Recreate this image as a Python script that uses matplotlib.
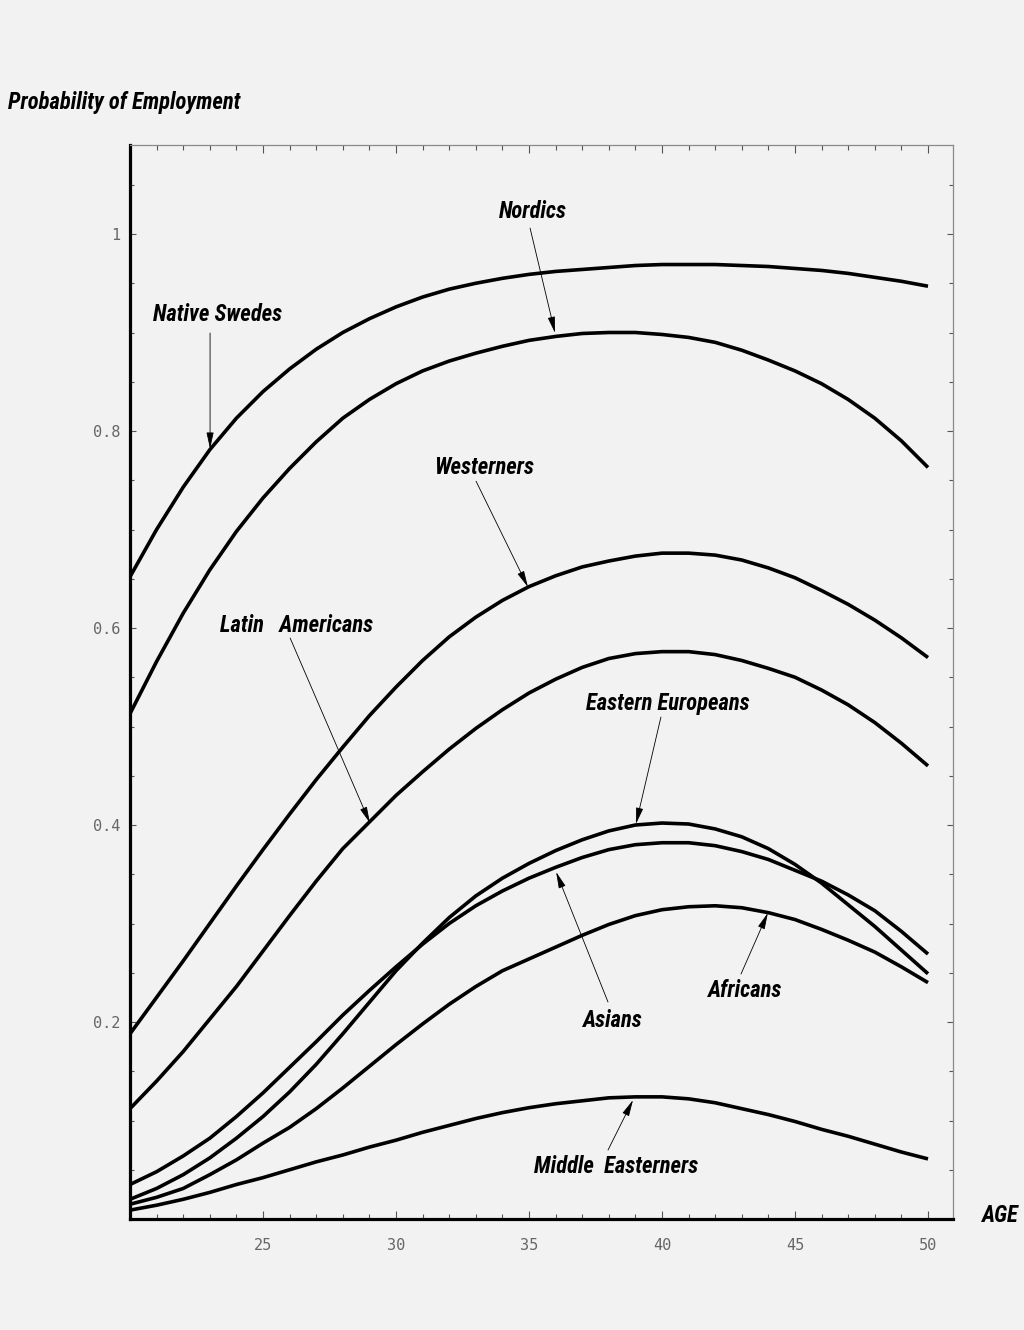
import matplotlib
matplotlib.use("Agg")
import matplotlib.pyplot as plt
from matplotlib import font_manager
from matplotlib.ticker import MultipleLocator, FixedLocator, NullFormatter

# ---- data -------------------------------------------------------------
ages = list(range(20, 51))

native_swedes = [0.652, 0.700, 0.743, 0.781, 0.813, 0.840, 0.863, 0.883,
                 0.900, 0.914, 0.926, 0.936, 0.944, 0.950, 0.955, 0.959,
                 0.962, 0.964, 0.966, 0.968, 0.969, 0.969, 0.969, 0.968,
                 0.967, 0.965, 0.963, 0.960, 0.956, 0.952, 0.947]
nordics = [0.513, 0.566, 0.615, 0.659, 0.698, 0.732, 0.762, 0.789,
           0.813, 0.832, 0.848, 0.861, 0.871, 0.879, 0.886, 0.892,
           0.896, 0.899, 0.900, 0.900, 0.898, 0.895, 0.890, 0.882,
           0.872, 0.861, 0.848, 0.832, 0.813, 0.790, 0.763]
westerners = [0.188, 0.225, 0.262, 0.300, 0.338, 0.375, 0.411, 0.446,
              0.479, 0.511, 0.540, 0.567, 0.591, 0.611, 0.628, 0.642,
              0.653, 0.662, 0.668, 0.673, 0.676, 0.676, 0.674, 0.669,
              0.661, 0.651, 0.638, 0.624, 0.608, 0.590, 0.570]
latin_americans = [0.112, 0.140, 0.170, 0.203, 0.236, 0.272, 0.308, 0.343,
                   0.376, 0.403, 0.430, 0.454, 0.477, 0.498, 0.517, 0.534,
                   0.548, 0.560, 0.569, 0.574, 0.576, 0.576, 0.573, 0.567,
                   0.559, 0.550, 0.537, 0.522, 0.504, 0.483, 0.460]
eastern_europeans = [0.020, 0.031, 0.045, 0.062, 0.082, 0.104, 0.129, 0.157,
                     0.188, 0.220, 0.252, 0.280, 0.306, 0.328, 0.346, 0.361,
                     0.374, 0.385, 0.394, 0.400, 0.402, 0.401, 0.396, 0.388,
                     0.376, 0.360, 0.341, 0.319, 0.297, 0.273, 0.249]
asians = [0.035, 0.048, 0.064, 0.082, 0.104, 0.128, 0.154, 0.180,
          0.207, 0.232, 0.256, 0.279, 0.300, 0.318, 0.333, 0.346,
          0.357, 0.367, 0.375, 0.380, 0.382, 0.382, 0.379, 0.373,
          0.365, 0.354, 0.343, 0.329, 0.313, 0.292, 0.269]
africans = [0.015, 0.022, 0.031, 0.045, 0.060, 0.077, 0.093, 0.112,
            0.133, 0.155, 0.177, 0.198, 0.218, 0.236, 0.252, 0.264,
            0.276, 0.288, 0.299, 0.308, 0.314, 0.317, 0.318, 0.316,
            0.311, 0.304, 0.294, 0.283, 0.271, 0.256, 0.240]
middle_easterners = [0.009, 0.014, 0.020, 0.027, 0.035, 0.042, 0.050, 0.058,
                     0.065, 0.073, 0.080, 0.088, 0.095, 0.102, 0.108, 0.113,
                     0.117, 0.120, 0.123, 0.124, 0.124, 0.122, 0.118, 0.112,
                     0.106, 0.099, 0.091, 0.084, 0.076, 0.068, 0.061]

series = [native_swedes, nordics, westerners, latin_americans,
          eastern_europeans, asians, africans, middle_easterners]

x_tick_values = [25, 30, 35, 40, 45, 50]
x_tick_labels = ["25", "30", "35", "40", "45", "50"]
y_tick_values = [0.2, 0.4, 0.6, 0.8, 1.0]
y_tick_labels = ["0.2", "0.4", "0.6", "0.8", "1"]

# label text, label position, arrow start, arrow tip (data units)
labels = [
    ("Nordics",            (35.15, 1.023), (35.04, 1.006), (35.98, 0.8995)),
    ("Native Swedes",      (23.30, 0.918), (23.01, 0.8995), (23.01, 0.782)),
    ("Westerners",         (33.32, 0.763), (33.01, 0.749), (34.96, 0.6416)),
    ("Latin   Americans",  (26.27, 0.603), (26.02, 0.5898), (29.02, 0.402)),
    ("Eastern Europeans",  (40.23, 0.523), (39.96, 0.5096), (39.02, 0.401)),
    ("Asians",             (38.16, 0.202), (37.97, 0.2203), (36.02, 0.3523)),
    ("Africans",           (43.14, 0.232), (42.97, 0.2487), (43.98, 0.3107)),
    ("Middle  Easterners", (38.27, 0.053), (37.97, 0.070), (38.91, 0.1208)),
]

# ---- fonts ------------------------------------------------------------
entries = font_manager.fontManager.ttflist
names = {f.name for f in entries}
label_family = None
label_stretch = "normal"
for cand in ["Liberation Sans Narrow", "Roboto Condensed", "Arial Narrow",
             "Nimbus Sans Narrow", "Open Sans Condensed"]:
    if cand in names:
        label_family = cand
        break
if label_family is None:
    condensed = [f for f in entries if f.name == "DejaVu Sans"
                 and str(f.stretch).lower() in ("condensed", "semi-condensed")]
    if condensed:
        label_family = "DejaVu Sans"
        label_stretch = "condensed"
    elif "Roboto" in names:
        label_family = "Roboto"
    else:
        label_family = "Liberation Sans"
tick_family = ["DejaVu Sans Mono"]

# ---- figure -----------------------------------------------------------
bg = "#f2f2f2"
W, H = 1024, 1330
fig = plt.figure(figsize=(W / 100, H / 100), dpi=100, facecolor=bg)

left_px, right_px, top_px, bottom_px = 130, 953, 145, 1219
ax = fig.add_axes([left_px / W, 1 - bottom_px / H,
                   (right_px - left_px) / W, (bottom_px - top_px) / H])
ax.set_facecolor(bg)

px_per_year = 26.6
px_per_unit = 985.0
ax.set_xlim(20, 20 + (right_px - left_px) / px_per_year)
ax.set_ylim(0, (bottom_px - top_px) / px_per_unit)

for s in series:
    ax.plot(ages, s, color="black", lw=2.6, solid_capstyle="butt",
            solid_joinstyle="round", zorder=3)

# spines
for side in ("left", "bottom"):
    ax.spines[side].set_linewidth(2.3)
    ax.spines[side].set_color("black")
for side in ("top", "right"):
    ax.spines[side].set_linewidth(0.9)
    ax.spines[side].set_color("#8a8a8a")

# ticks
ax.xaxis.set_major_locator(FixedLocator(x_tick_values))
ax.xaxis.set_minor_locator(MultipleLocator(1))
ax.yaxis.set_major_locator(FixedLocator(y_tick_values))
ax.yaxis.set_minor_locator(MultipleLocator(0.05))
ax.set_xticklabels(x_tick_labels)
ax.set_yticklabels(y_tick_labels)
ax.yaxis.set_minor_formatter(NullFormatter())
ax.tick_params(which="both", direction="in", top=True, right=True,
               color="#555555", width=0.8)
ax.tick_params(axis="x", which="major", length=6, pad=14)
ax.tick_params(axis="x", which="minor", length=3.5)
ax.tick_params(axis="y", which="major", length=4.5, pad=7)
ax.tick_params(axis="y", which="minor", length=3)
for lab in ax.get_xticklabels() + ax.get_yticklabels():
    lab.set_family(tick_family)
    lab.set_fontsize(11)
    lab.set_color("#666666")

text_kw = dict(family=label_family, stretch=label_stretch, weight="bold",
               style="italic", color="black")

texts = []
for name, pos, start, tip in labels:
    t = ax.text(pos[0], pos[1], name, ha="center", va="center", zorder=5,
                fontsize=16, **text_kw)
    texts.append(t)
    ax.annotate("", xy=tip, xytext=start,
                arrowprops=dict(arrowstyle="-|>,head_length=1.0,head_width=0.22",
                                color="black", lw=0.6,
                                shrinkA=0, shrinkB=0),
                zorder=4)

texts.append(fig.text(8 / W, 1 - 102 / H, "Probability of Employment",
                      ha="left", va="center", fontsize=16, **text_kw))
texts.append(fig.text(1000 / W, 1 - 1216 / H, "AGE", ha="center",
                      va="center", fontsize=16, **text_kw))

# size the labels so that their overall width suits the layout
target_width = 1186.0
renderer = fig.canvas.get_renderer()
total = sum(t.get_window_extent(renderer).width for t in texts)
size = 16 * target_width / total
for t in texts:
    t.set_fontsize(size)

fig.savefig("out.png", dpi=100, facecolor=bg)
